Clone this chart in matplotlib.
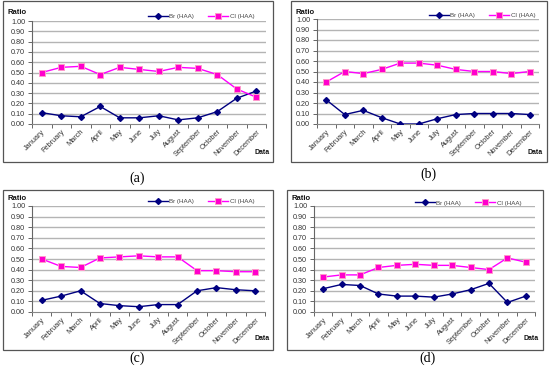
import matplotlib
matplotlib.use("Agg")
import matplotlib.pyplot as plt
from matplotlib.patches import Rectangle
from matplotlib.ticker import FixedLocator, NullFormatter

W, H = 550, 370

months = ["January", "February", "March", "April", "May", "June", "July",
          "August", "September", "October", "November", "December"]
yticks = [0.0, 0.1, 0.2, 0.3, 0.4, 0.5, 0.6, 0.7, 0.8, 0.9, 1.0]

br_a = [0.11, 0.08, 0.07, 0.17, 0.06, 0.06, 0.08, 0.04, 0.06, 0.12, 0.25, 0.32]
cl_a = [0.50, 0.55, 0.56, 0.48, 0.55, 0.53, 0.51, 0.55, 0.54, 0.48, 0.34, 0.26]
br_b = [0.23, 0.09, 0.13, 0.06, 0.00, 0.00, 0.05, 0.09, 0.10, 0.10, 0.10, 0.09]
cl_b = [0.40, 0.50, 0.48, 0.52, 0.58, 0.58, 0.56, 0.52, 0.50, 0.50, 0.48, 0.50]
br_c = [0.11, 0.15, 0.20, 0.08, 0.06, 0.05, 0.07, 0.07, 0.20, 0.23, 0.21, 0.20]
cl_c = [0.50, 0.43, 0.42, 0.51, 0.52, 0.53, 0.52, 0.52, 0.39, 0.39, 0.38, 0.38]
br_d = [0.22, 0.26, 0.25, 0.17, 0.15, 0.15, 0.14, 0.17, 0.21, 0.27, 0.09, 0.15]
cl_d = [0.33, 0.35, 0.35, 0.42, 0.44, 0.45, 0.44, 0.44, 0.42, 0.40, 0.51, 0.47]

labels = ["(a)", "(b)", "(c)", "(d)"]
series_names = ["Br (HAA)", "Cl (HAA)"]

plt.rcParams['font.family'] = ['Liberation Sans', 'DejaVu Sans']

fig = plt.figure(figsize=(W / 100, H / 100), dpi=100)
fig.patch.set_facecolor("white")


def fx(x):
    return x / W


def fy(y):
    return 1 - y / H


panels = [
    dict(frame=(3, 1, 273, 162), ax=(32, 21, 266, 124), leg=(201, 16), cap=(137, 178),
         br=br_a, cl=cl_a, ratio=(7, 12), data=(262, 152)),
    dict(frame=(291, 1, 547, 162), ax=(317, 19, 539, 124), leg=(482, 15), cap=(428, 174),
         br=br_b, cl=cl_b, ratio=(296, 12), data=(535, 152)),
    dict(frame=(3, 190, 273, 350), ax=(32, 206, 265, 312), leg=(201, 201), cap=(137, 358),
         br=br_c, cl=cl_c, ratio=(7, 198), data=(262, 339)),
    dict(frame=(287, 190, 543, 350), ax=(314, 206, 535, 312), leg=(468, 203), cap=(428, 358),
         br=br_d, cl=cl_d, ratio=(292, 198), data=(531, 339)),
]

for p, lab in zip(panels, labels):
    x0, y0, x1, y1 = p["frame"]
    fig.add_artist(Rectangle((fx(x0), fy(y1)), fx(x1 - x0), (y1 - y0) / H,
                             transform=fig.transFigure, fill=False,
                             edgecolor="#555555", linewidth=0.9))
    l, t, r, b = p["ax"]
    ax = fig.add_axes([fx(l), fy(b), fx(r - l), (b - t) / H])
    xs = list(range(len(months)))
    for yv in yticks[1:]:
        ax.axhline(yv, color="#B4B4B4", linewidth=1.0, zorder=0)
    ax.plot(xs, p["br"], color="#000080", linewidth=1.0, marker="D",
            markersize=3.0, markerfacecolor="#000080", markeredgecolor="#000080",
            label=series_names[0], zorder=3)
    ax.plot(xs, p["cl"], color="#FF00FF", linewidth=1.0, marker="s",
            markersize=4.4, markerfacecolor="#FF00CC", markeredgecolor="#FF99CC",
            markeredgewidth=0.7, label=series_names[1], zorder=3)
    ax.set_xlim(-0.5, len(months) - 0.5)
    ax.set_ylim(0, 1.0)
    ax.set_yticks(yticks)
    ax.set_yticklabels([f"{v:.2f}" for v in yticks])
    ax.set_xticks(xs)
    ax.set_xticklabels(months, rotation=45, ha="right", rotation_mode="anchor")
    ax.xaxis.set_minor_locator(FixedLocator([i - 0.5 for i in range(len(months) + 1)]))
    ax.xaxis.set_minor_formatter(NullFormatter())
    ax.tick_params(axis="x", which="major", length=0, pad=3, labelsize=5.3, labelcolor="#333333")
    ax.tick_params(axis="x", which="minor", length=3, direction="out", color="#666666", width=0.7)
    ax.tick_params(axis="y", length=3, direction="out", pad=2, labelsize=5.2,
                   labelcolor="#333333", color="#666666", width=0.7)
    for s in ["top", "right"]:
        ax.spines[s].set_visible(False)
    ax.spines["left"].set_color("#666666")
    ax.spines["bottom"].set_color("#888888")
    ax.spines["left"].set_linewidth(0.8)
    ax.spines["bottom"].set_linewidth(0.8)
    ax.set_facecolor("white")
    lx, ly = p["leg"]
    leg = ax.legend(loc="center", bbox_to_anchor=(fx(lx), fy(ly)),
                    bbox_transform=fig.transFigure, ncol=2, frameon=False,
                    fontsize=4.5, handlelength=3.2, columnspacing=2.2,
                    handletextpad=0.3, borderpad=0)
    for txt in leg.get_texts():
        txt.set_color("#444444")
    rx, ry = p["ratio"]
    fig.text(fx(rx), fy(ry), "Ratio", fontsize=5.5, fontweight="bold",
             ha="left", va="center", color="#111111")
    dx, dy = p["data"]
    fig.text(fx(dx), fy(dy), "Data", fontsize=5, fontweight="bold",
             ha="center", va="center", color="#111111")
    cx, cy = p["cap"]
    fig.text(fx(cx), fy(cy), lab, fontsize=10, family=["Liberation Serif", "DejaVu Serif"],
             ha="center", va="center", color="black")

fig.savefig("out.png", dpi=100, facecolor="white")
